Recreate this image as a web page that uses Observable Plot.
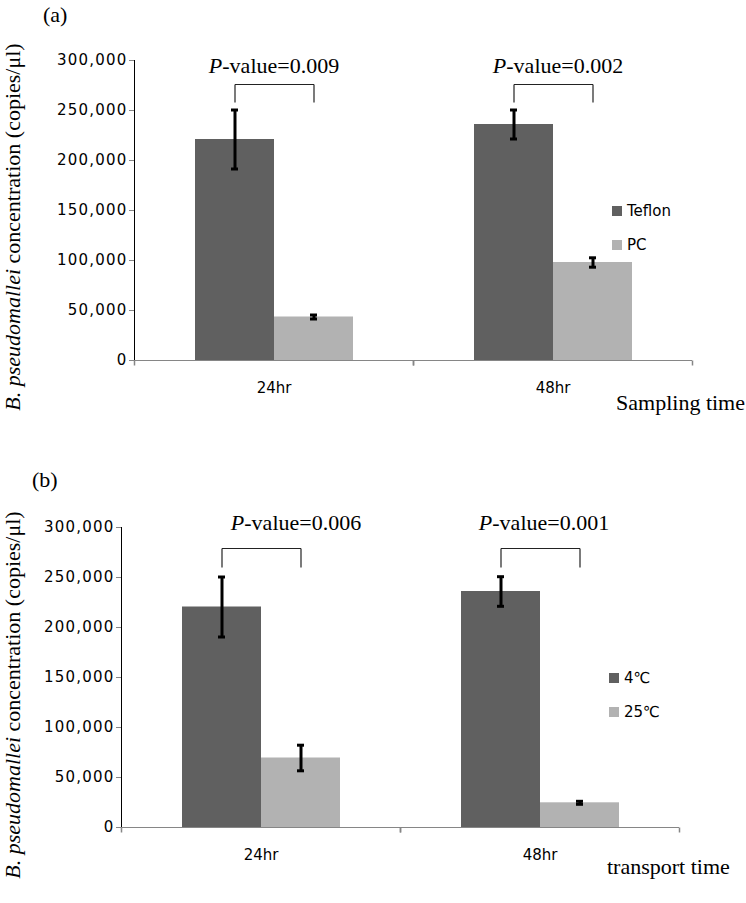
<!DOCTYPE html>
<html>
<head>
<meta charset="utf-8">
<script src="https://cdn.jsdelivr.net/npm/d3@7"></script>
<script src="https://cdn.jsdelivr.net/npm/@observablehq/plot@0.6"></script>
<style>
  body { margin: 0; background: #fff; }
  #fig { position: relative; width: 746px; height: 903px; overflow: hidden; background: #fff; }
  .panel { position: absolute; left: 0; z-index: 1; }
  .serif { position: absolute; z-index: 2; font-family: "Liberation Serif", "Times New Roman", serif; font-size: 22px; line-height: 1; color: #000; white-space: nowrap; }
  .ylab { transform: translate(-50%, -50%) rotate(-90deg); }
  .legend-row { position: absolute; z-index: 2; display: flex; align-items: center; height: 15px; font-family: "DejaVu Sans", sans-serif; font-size: 15px; line-height: 15px; color: #000; white-space: nowrap; }
  .legend-row span.sw { display: inline-block; width: 10px; height: 10px; margin-right: 5px; }
  g[aria-label^="y-axis"] line, g[aria-label^="y-axis"] path { stroke: #868686; }
  g[aria-label^="y-axis"] text { letter-spacing: 1.2px; }
</style>
</head>
<body>
<div id="fig">
  <div id="panelA" class="panel" style="top:0px"></div>
  <div id="panelB" class="panel" style="top:420px"></div>
  <div class="serif" style="left:43px;top:4px">(a)</div>
  <div class="serif" style="left:32px;top:469px">(b)</div>
  <div class="serif ylab" style="left:13px;top:227px"><i>B. pseudomallei</i> concentration (copies/μl)</div>
  <div class="serif ylab" style="left:13px;top:695px"><i>B. pseudomallei</i> concentration (copies/μl)</div>
  <div class="serif" style="right:1px;top:392px">Sampling time</div>
  <div class="serif" style="left:607px;top:856px">transport time</div>
  <div id="legendA"></div>
  <div id="legendB"></div>
</div>
<script>
// ---- data ----
const times = ["24hr", "48hr"];
const yTicks = [0, 50000, 100000, 150000, 200000, 250000, 300000];

// panel (a): sampling time, filter material
const seriesA = ["Teflon", "PC"];
const teflonValues = [221000, 236000];
const teflonErrors = [29500, 14500];
const pcValues = [43500, 98000];
const pcErrors = [2000, 4700];
const pValuesA = ["0.009", "0.002"];

// panel (b): transport time, temperature
const seriesB = ["4℃", "25℃"];
const cold4Values = [220500, 236000];
const cold4Errors = [30000, 14800];
const warm25Values = [69500, 24700];
const warm25Errors = [12800, 1500];
const pValuesB = ["0.006", "0.001"];

const barColors = ["#606060", "#b2b2b2"];
const axisGray = "#868686";

function buildRows(series, values, errors, pvals) {
  const rows = [];
  times.forEach((t, i) => series.forEach((s, j) => {
    rows.push({time: t, series: s, value: values[j][i], err: errors[j][i], p: pvals[i]});
  }));
  return rows;
}

const tickSymbol = {draw(ctx) { ctx.moveTo(0, 0); ctx.lineTo(0, 5); }};

function makePanel(cfg) {
  const rows = buildRows(cfg.series, cfg.values, cfg.errors, cfg.pvals);
  const first = cfg.series[0];
  const marks = [
    Plot.barY(rows, {x: "series", y: "value", fill: "series"}),
    Plot.ruleY([0], {stroke: axisGray}),
    Plot.dot([0], {frameAnchor: "bottom-left", symbol: tickSymbol, stroke: axisGray, fill: "none"}),
    Plot.dot([0], {frameAnchor: "bottom-right", symbol: tickSymbol, stroke: axisGray, fill: "none"}),
    Plot.link(rows, {x1: "series", x2: "series", y1: d => d.value - d.err, y2: d => d.value + d.err, stroke: "#000", strokeWidth: 3}),
    Plot.tickY(rows, {x: "series", y: d => d.value - d.err, stroke: "#000", strokeWidth: 3, inset: 36}),
    Plot.tickY(rows, {x: "series", y: d => d.value + d.err, stroke: "#000", strokeWidth: 3, inset: 36}),
    Plot.link(rows, {filter: d => d.series === first, x1: () => cfg.series[0], x2: () => cfg.series[1], y1: () => cfg.bracketTop, y2: () => cfg.bracketTop, stroke: "#222", strokeWidth: 1.2}),
    Plot.link(rows, {x1: "series", x2: "series", y1: () => cfg.bracketTop, y2: () => cfg.bracketLeg, stroke: "#222", strokeWidth: 1.2}),
    ...times.map((t, i) => Plot.text(rows, {
      filter: d => d.series === first && d.time === t,
      y: () => cfg.pTextY,
      text: d => "P-value=" + d.p,
      dx: cfg.pDx[i],
      lineAnchor: "middle",
      fontFamily: "Liberation Serif, Times New Roman, serif",
      fontSize: 22,
      fill: "#000"
    }))
  ];
  const svg = Plot.plot({
    width: 746,
    height: cfg.height,
    marginTop: cfg.marginTop,
    marginBottom: cfg.marginBottom,
    marginLeft: cfg.marginLeft,
    marginRight: cfg.marginRight,
    style: {fontFamily: "DejaVu Sans, sans-serif", fontSize: "15px", color: "#000", background: "transparent", overflow: "visible"},
    facet: {data: rows, x: "time"},
    fx: {domain: times, padding: 0, axis: "bottom", tickSize: 0, tickPadding: 22, label: null},
    x: {domain: cfg.series, paddingInner: 0, paddingOuter: 0.75, axis: null},
    y: {domain: [0, 300000], ticks: yTicks, tickFormat: d3.format(","), tickSize: 5, tickPadding: 2, line: true, label: null},
    color: {domain: cfg.series, range: barColors},
    marks
  });
  d3.select(svg).selectAll("text")
    .filter(function() { return this.textContent.startsWith("P-value"); })
    .each(function() {
      const rest = this.textContent.slice(1);
      const el = d3.select(this);
      el.text(null);
      el.append("tspan").attr("font-style", "italic").text("P");
      el.append("tspan").text(rest);
    });
  document.getElementById(cfg.target).appendChild(svg);
}

function makeLegend(target, series, left, centers) {
  const host = document.getElementById(target);
  series.forEach((s, j) => {
    const row = document.createElement("div");
    row.className = "legend-row";
    row.style.left = left + "px";
    row.style.top = (centers[j] - 7.5) + "px";
    const sw = document.createElement("span");
    sw.className = "sw";
    sw.style.background = barColors[j];
    const tx = document.createElement("span");
    tx.textContent = s;
    row.appendChild(sw);
    row.appendChild(tx);
    host.appendChild(row);
  });
}

makePanel({
  target: "panelA", series: seriesA,
  values: [teflonValues, pcValues], errors: [teflonErrors, pcErrors], pvals: pValuesA,
  height: 420, marginTop: 60, marginBottom: 60, marginLeft: 133, marginRight: 54,
  bracketTop: 276000, bracketLeg: 258000, pTextY: 295000, pDx: [0, 5]
});
makePanel({
  target: "panelB", series: seriesB,
  values: [cold4Values, warm25Values], errors: [cold4Errors, warm25Errors], pvals: pValuesB,
  height: 483, marginTop: 107, marginBottom: 76, marginLeft: 120, marginRight: 67,
  bracketTop: 279000, bracketLeg: 260000, pTextY: 305000, pDx: [35, 4]
});
makeLegend("legendA", seriesA, 612, [211, 245]);
makeLegend("legendB", seriesB, 609, [678, 712]);
</script>
</body>
</html>
